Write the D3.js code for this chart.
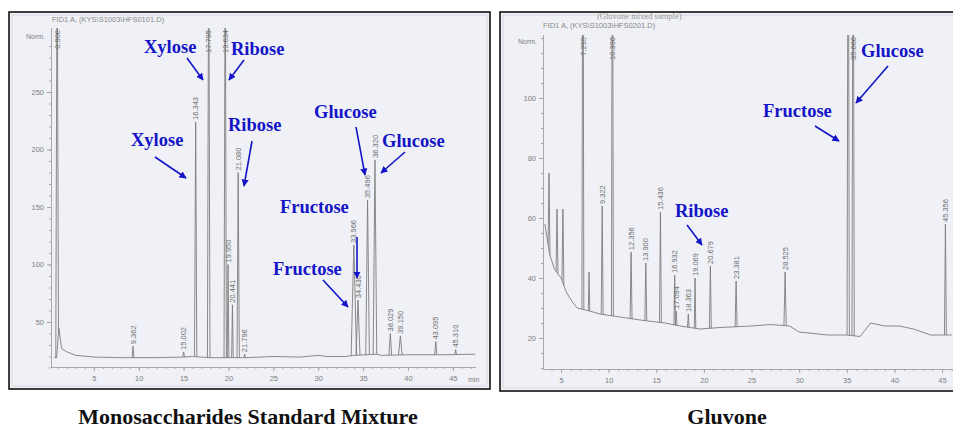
<!DOCTYPE html>
<html><head><meta charset="utf-8">
<script src="https://cdn.jsdelivr.net/npm/d3@7"></script>
<style>
html,body{margin:0;padding:0;background:#fff;}
svg{display:block;}
</style></head>
<body>
<svg id="chart" width="953" height="430"></svg>
<script>
// ---------- DATA ----------
// Left: Monosaccharides standard mixture (time in min, apex signal in Norm.)
const mixTimes   = [0.906, 9.362, 15.002, 16.343, 17.795, 19.634, 19.950, 20.441, 21.080, 21.796, 33.966, 34.430, 35.496, 36.320, 38.029, 39.150, 43.095, 45.310];
const mixHeights = [400,   29,    24,     224,    400,    400,    100,    65,     180,    22,     117,    69,     156,    191,    40,     38,     33,     26];
const mixWidths  = [0.15,  0.1,   0.1,    0.13,   0.14,   0.13,   0.09,   0.09,   0.13,   0.1,    0.3,    0.22,   0.2,    0.2,    0.15,   0.2,    0.12,   0.1];
const mixLabels  = ["0.906","9.362","15.002","16.343","17.795","19.634","19.950","20.441","21.080","21.796","33.966","34.430","35.496","36.320","38.029","39.150","43.095","45.310"];
const mixBaseline = [[0.6,19],[0.85,19],[1.1,45],[1.4,27],[2,24],[3,21],[5,19.5],[8,19],[12,19],[15,19.5],[16,20],[18,19],[22,19],[25,20],[28,19.5],[30,21],[31,20],[33,20],[34,21],[36.5,22],[37,21],[40,21.5],[44,21.5],[47.5,22]];
const mixXTicks = [5,10,15,20,25,30,35,40,45];
const mixYTicks = [50,100,150,200,250];

// Right: Gluvone sample
const gluTimes   = [3.74, 4.58, 5.2, 7.295, 7.94, 9.322, 10.396, 12.356, 13.900, 15.436, 16.932, 17.094, 18.363, 19.069, 20.679, 23.381, 28.525, 35.15, 35.666, 45.356];
const gluHeights = [75,   63,   63,  200,   42,   64,    200,    48.6,   45,     62,     41,     29,     28,     40,     44,     39,     42,     200,   200,    58];
const gluWidths  = [0.1,  0.1,  0.1, 0.1,   0.08, 0.1,   0.1,    0.1,    0.1,    0.1,    0.08,   0.08,   0.08,   0.08,   0.1,    0.1,    0.12,   0.12,  0.12,   0.1];
const gluLabels  = ["","","","7.295","","9.322","10.396","12.356","13.900","15.436","16.932","17.094","18.363","19.069","20.679","23.381","28.525","","35.666","45.356"];
const gluBaseline = [[3.3,58],[3.8,48],[4.3,43],[5,40],[5.6,35],[6.2,32],[6.7,30],[8,29],[9.1,28],[11.2,27],[13.3,26],[15.9,25],[17.5,24],[19.6,23],[21.7,23.5],[25,24],[27,24.5],[29,24],[30,22],[33,21],[35,21],[36.4,20.5],[37.5,25],[39,24],[40.5,24],[42,23],[43.8,21],[46,21]];
const gluXTicks = [5,10,15,20,25,30,35,40,45];
const gluYTicks = [20,40,60,80,100];

const leftAnnot = [
  {text:"Xylose", tx:144, ty:53, x1:187, y1:58, x2:203, y2:80},
  {text:"Ribose", tx:231, ty:55, x1:244, y1:60, x2:229, y2:80},
  {text:"Xylose", tx:131, ty:146, x1:155, y1:157, x2:186, y2:178},
  {text:"Ribose", tx:228, ty:131, x1:252, y1:141, x2:244, y2:186},
  {text:"Glucose", tx:314, ty:118, x1:356, y1:127, x2:365, y2:175},
  {text:"Glucose", tx:382, ty:147, x1:405, y1:152, x2:381, y2:173},
  {text:"Fructose", tx:280, ty:213, x1:357, y1:237, x2:357, y2:278},
  {text:"Fructose", tx:273, ty:275, x1:323, y1:280, x2:348, y2:307}
];
const rightAnnot = [
  {text:"Glucose", tx:861, ty:57, x1:888, y1:66, x2:856, y2:103},
  {text:"Fructose", tx:763, ty:117, x1:815, y1:126, x2:839, y2:141},
  {text:"Ribose", tx:675, ty:217, x1:687, y1:225, x2:702, y2:245}
];

// ---------- DRAW ----------
const svg = d3.select("#chart");
const defs = svg.append("defs");
defs.append("marker").attr("id","ah").attr("viewBox","0 0 10 10")
  .attr("refX",9).attr("refY",5).attr("markerWidth",4.5).attr("markerHeight",4.5)
  .attr("orient","auto").attr("markerUnits","strokeWidth")
  .append("path").attr("d","M0,0 L10,5 L0,10 z").attr("fill","#1414c8");

const BLUE="#1414c8", GRAY="#7d7d7d";

function panel(cfg){
  const g = svg.append("g");
  g.append("rect").attr("x",cfg.bx).attr("y",cfg.by).attr("width",cfg.bw).attr("height",cfg.bh)
    .attr("fill","#eff1f6").attr("stroke","#111").attr("stroke-width",1.6);
  g.append("rect").attr("x",cfg.bx+3).attr("y",cfg.by+3).attr("width",cfg.bw-6).attr("height",cfg.bh-6)
    .attr("fill","none").attr("stroke","#d6d8dc").attr("stroke-width",1);

  const x = d3.scaleLinear().domain(cfg.xdom).range(cfg.xrange);
  const y = d3.scaleLinear().domain(cfg.ydom).range(cfg.yrange);
  const base = d3.scaleLinear().domain(cfg.baseline.map(d=>d[0])).range(cfg.baseline.map(d=>d[1])).clamp(true);

  const clipId = "clip"+cfg.id;
  defs.append("clipPath").attr("id",clipId).append("rect")
    .attr("x",cfg.axX).attr("y",cfg.top).attr("width",cfg.clipRight-cfg.axX).attr("height",cfg.axY-cfg.top);

  g.append("text").attr("x",cfg.titleX).attr("y",cfg.titleY).text(cfg.title)
    .attr("font-family","Liberation Sans, Arial, sans-serif").attr("font-size",7.5).attr("fill","#8a8a8a");
  if(cfg.subtitle){
    g.append("text").attr("x",cfg.subX).attr("y",cfg.subY).text(cfg.subtitle)
      .attr("font-family","Liberation Serif, serif").attr("font-size",8.5).attr("fill","#9a9a9a");
  }

  const ax = g.append("g").attr("transform",`translate(0,${cfg.axY})`)
    .call(d3.axisBottom(x).tickValues(cfg.xticks).tickSize(4).tickFormat(d3.format("d")));
  const axm = g.append("g").attr("transform",`translate(0,${cfg.axY})`)
    .call(d3.axisBottom(x).tickValues(d3.range(Math.ceil(cfg.xdom[0]),Math.floor(cfg.xdom[1])+1)).tickSize(2).tickFormat(""));
  axm.select(".domain").remove();
  const ay = g.append("g").attr("transform",`translate(${cfg.axX},0)`)
    .call(d3.axisLeft(y).tickValues(cfg.yticks).tickSize(4).tickFormat(d3.format("d")));
  const aym = g.append("g").attr("transform",`translate(${cfg.axX},0)`)
    .call(d3.axisLeft(y).tickValues(d3.range(cfg.yminor[0],cfg.yminor[1],cfg.yminor[2])).tickSize(2).tickFormat(""));
  aym.select(".domain").remove();
  [ax,axm,ay,aym].forEach(a=>{
    a.selectAll("path,line").attr("stroke","#a0a0a0").attr("stroke-width",0.9);
    a.selectAll("text").attr("fill","#808080").attr("font-size",7.5).attr("font-family","Liberation Sans, Arial, sans-serif");
  });
  ax.select(".domain").attr("d",`M${cfg.axX},0.5H${cfg.clipRight}`);
  ay.select(".domain").attr("d",`M0.5,${cfg.axY}V${cfg.top}`);
  ax.selectAll("text").attr("dy","0.9em");
  if(cfg.minX){
    g.append("text").attr("x",cfg.minX).attr("y",cfg.axY+15).text("min")
      .attr("font-family","Liberation Sans, Arial, sans-serif").attr("font-size",7).attr("fill","#808080");
  }
  g.append("text").attr("x",cfg.axX-6).attr("y",cfg.normY).attr("text-anchor","end").text("Norm.")
    .attr("font-family","Liberation Sans, Arial, sans-serif").attr("font-size",7).attr("fill","#808080");

  const plot = g.append("g").attr("clip-path",`url(#${clipId})`);
  const line = d3.line().x(d=>x(d[0])).y(d=>y(d[1]));
  plot.append("path").attr("d",line(cfg.baseline)).attr("fill","none").attr("stroke",GRAY).attr("stroke-width",0.9);
  cfg.times.forEach((t,i)=>{
    const w = cfg.widths[i], h = cfg.heights[i];
    const pts = [[t-w, base(t-w)],[t, h],[t+w, base(t+w)]];
    plot.append("path").attr("d",line(pts)).attr("fill","none").attr("stroke",GRAY).attr("stroke-width",0.9);
  });
  cfg.times.forEach((t,i)=>{
    const lab = cfg.labels[i]; if(!lab) return;
    const h = cfg.heights[i];
    const clipped = y(h) < cfg.top + 4;
    const py = clipped ? cfg.top + 2 : y(h) - 2;
    g.append("text").attr("transform",`translate(${x(t)},${py}) rotate(-90)`)
      .attr("text-anchor", clipped ? "end" : "start").attr("dy","0.35em")
      .attr("font-family","Liberation Sans, Arial, sans-serif").attr("font-size",7.5)
      .attr("fill","#6e6e6e").text(lab);
  });
  cfg.annot.forEach(a=>{
    g.append("text").attr("x",a.tx).attr("y",a.ty).text(a.text)
      .attr("font-family","Liberation Serif, 'Times New Roman', serif").attr("font-weight","bold")
      .attr("font-size",18.5).attr("fill",BLUE);
    g.append("line").attr("x1",a.x1).attr("y1",a.y1).attr("x2",a.x2).attr("y2",a.y2)
      .attr("stroke",BLUE).attr("stroke-width",1.6).attr("marker-end","url(#ah)");
  });
}

panel({id:"L", bx:9, by:12, bw:481, bh:377,
  xdom:[0,47.5], xrange:[49,475.3], ydom:[0,300], yrange:[379.5,34.5],
  axX:51, axY:367, top:28, clipRight:476,
  xticks:mixXTicks, yticks:mixYTicks, yminor:[20,300,10],
  baseline:mixBaseline, times:mixTimes, heights:mixHeights, widths:mixWidths, labels:mixLabels,
  title:"FID1 A, (KYS\\S1003\\HFS0101.D)", titleX:52, titleY:22,
  minX:468, normY:39, annot:leftAnnot});

panel({id:"R", bx:500, by:12, bw:460, bh:379,
  xdom:[3.3,46], xrange:[513.4+3.3*9.525,513.4+46*9.525], ydom:[0,120], yrange:[398,38],
  axX:543, axY:369, top:35, clipRight:953,
  xticks:gluXTicks, yticks:gluYTicks, yminor:[10,121,5],
  baseline:gluBaseline, times:gluTimes, heights:gluHeights, widths:gluWidths, labels:gluLabels,
  title:"FID1 A, (KYS\\S1003\\HFS0201.D)", titleX:543, titleY:28,
  subtitle:"(Gluvone mixed sample)", subX:597, subY:19,
  minX:null, normY:44, annot:rightAnnot});

svg.append("text").attr("x",248).attr("y",424).attr("text-anchor","middle")
  .attr("font-family","Liberation Serif, 'Times New Roman', serif").attr("font-weight","bold")
  .attr("font-size",22).attr("fill","#111").text("Monosaccharides Standard Mixture");
svg.append("text").attr("x",727).attr("y",424).attr("text-anchor","middle")
  .attr("font-family","Liberation Serif, 'Times New Roman', serif").attr("font-weight","bold")
  .attr("font-size",22).attr("fill","#111").text("Gluvone");
</script>
</body></html>
